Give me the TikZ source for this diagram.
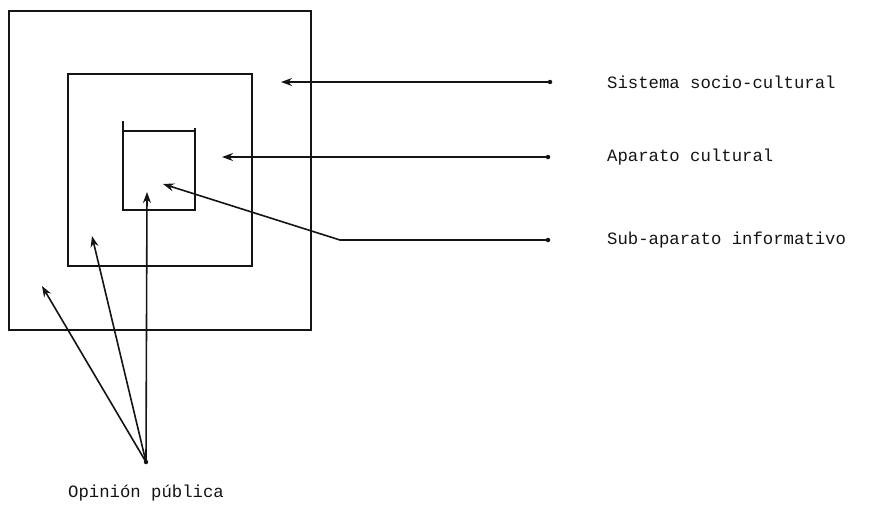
\documentclass[tikz,border=0pt]{standalone}
\usepackage{fontspec}
\setmonofont{Liberation Mono}
\usetikzlibrary{arrows.meta,positioning}
\definecolor{ink}{RGB}{20,20,20}
\tikzset{
  >={Stealth[length=11pt,width=8pt]},
  frame/.style={draw=ink,line width=2.4pt},
  pointer/.style={->,draw=ink,line width=1.6pt},
  tag/.style={font=\ttfamily\fontsize{17.3}{20}\selectfont,text=ink,inner sep=0pt},
  dot/.style={fill=ink,circle,inner sep=0pt,minimum size=4.5pt},
}
\begin{document}
\begin{tikzpicture}[x=1pt,y=-1pt]
  \useasboundingbox (0,0) rectangle (880,509);
  % nested frames
  \draw[frame] (9,11) rectangle (311,330);
  \draw[frame] (68,74) rectangle (252,266);
  \draw[frame] (123,121) -- (123,210) -- (195,210) -- (195,128);
  \draw[frame] (123,131) -- (195,131);
  % labels on the right
  \node[tag,anchor=west] (sis) at (607,82) {Sistema socio-cultural};
  \node[tag,anchor=west] (apa) at (607,157) {Aparato cultural};
  \node[tag,anchor=west] (sub) at (607,240) {Sub-aparato informativo};
  \node[tag] (opi) at (146,493) {Opinión pública};
  % start dots and arrow tips
  \node[dot] (d1) at (550,82) {};
  \node[dot] (d2) at (548,157) {};
  \node[dot] (d3) at (548,240) {};
  \node[dot] (d4) at (146,462) {};
  \coordinate (t1) at (281,82);
  \coordinate (t2) at (222,157);
  \coordinate (bend) at (340,240);
  \coordinate (t3) at (163,184);
  \coordinate (o1) at (42,286);
  \coordinate (o2) at (92,236);
  \coordinate (o3) at (147,192);
  \draw[pointer] (d1.center) -- (t1);
  \draw[pointer] (d2.center) -- (t2);
  \draw[pointer] (d3.center) -- (bend) -- (t3);
  \foreach \t in {o1,o2,o3}
    \draw[pointer] (d4.center) -- (\t);
\end{tikzpicture}
\end{document}
